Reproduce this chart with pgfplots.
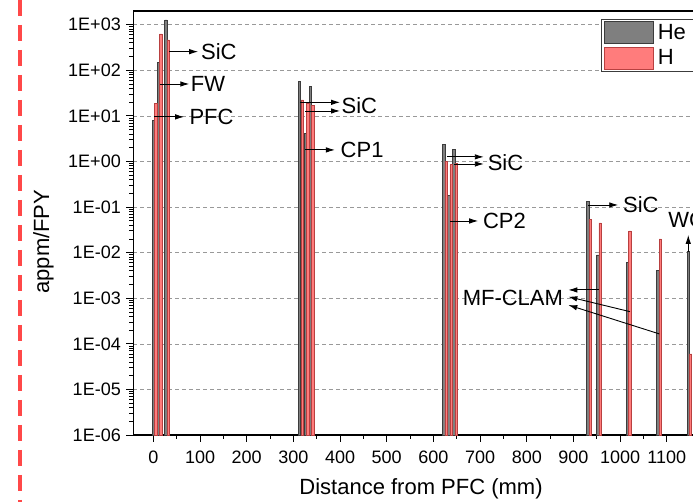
\documentclass[border=0pt]{standalone}
\usepackage{fontspec}
\setmainfont{Liberation Sans}
\usepackage{pgfplots}
\pgfplotsset{compat=1.18}
\usetikzlibrary{arrows.meta}

\definecolor{heFill}{HTML}{7F7F7F}
\definecolor{heLine}{HTML}{3C3C3C}
\definecolor{hFill}{HTML}{FF7C7C}
\definecolor{hLine}{HTML}{B84040}
\definecolor{cutRed}{HTML}{FF4848}

\begin{document}
\begin{tikzpicture}[x=1bp,y=1bp,
  arr/.style={-{Latex[length=9bp,width=5.5bp]},line width=0.9bp},
  lbl/.style={font=\fontsize{22bp}{26bp}\selectfont,inner sep=0pt}]
\begin{axis}[
  at={(133.3bp,67bp)},anchor=south west,
  scale only axis,width=575.5bp,height=424bp,
  xmin=-43,xmax=1190,
  ymode=log,log basis y=10,ymin=1e-6,ymax=1995,log origin=infty,
  xtick={0,100,...,1100},minor x tick num=1,
  ytick={1e-6,1e-5,1e-4,1e-3,1e-2,1e-1,1,1e1,1e2,1e3},
  yticklabels={1E-06,1E-05,1E-04,1E-03,1E-02,1E-01,1E+00,1E+01,1E+02,1E+03},
  minor ytick={2e-6,3e-6,4e-6,5e-6,6e-6,7e-6,8e-6,9e-6,
    2e-5,3e-5,4e-5,5e-5,6e-5,7e-5,8e-5,9e-5,
    2e-4,3e-4,4e-4,5e-4,6e-4,7e-4,8e-4,9e-4,
    2e-3,3e-3,4e-3,5e-3,6e-3,7e-3,8e-3,9e-3,
    2e-2,3e-2,4e-2,5e-2,6e-2,7e-2,8e-2,9e-2,
    0.2,0.3,0.4,0.5,0.6,0.7,0.8,0.9,
    2,3,4,5,6,7,8,9,20,30,40,50,60,70,80,90,
    200,300,400,500,600,700,800,900},
  xtick pos=bottom,ytick pos=left,tick align=outside,
  major tick length=7bp,minor tick length=4bp,
  tick style={black,line width=0.8bp},
  axis line style={line width=1.2bp},
  ymajorgrids,
  major grid style={gray!80,line width=0.6bp,dash pattern=on 4bp off 3bp},
  /pgf/number format/assume math mode=true,
  /pgf/number format/1000 sep={},
  ticklabel style={font=\fontsize{18bp}{21bp}\selectfont},
  xticklabel style={yshift=-5bp},
  yticklabel style={xshift=-2bp},
  xlabel={Distance from PFC (mm)},ylabel={appm/FPY},
  every axis x label/.style={at={(axis description cs:0.5,-0.127)},anchor=center,
    font=\fontsize{22bp}{26bp}\selectfont},
  every axis y label/.style={at={(axis description cs:-0.156,0.456)},anchor=center,
    rotate=90,font=\fontsize{22bp}{26bp}\selectfont},
  legend style={at={(axis description cs:0.812,0.981)},anchor=north west,
    draw=heLine,line width=0.8bp,font=\fontsize{22bp}{24bp}\selectfont,
    inner xsep=3bp,inner ysep=1.5bp,row sep=3bp,
    nodes={inner xsep=4bp}},
  legend cell align=left,
  legend image code/.code={\draw[#1,line width=0.8bp] (0bp,-11bp) rectangle (49bp,11bp);},
]
\addplot[ybar,bar shift=0pt,bar width=5,fill=heFill,draw=heLine,line width=0.7bp]
  coordinates {(0,8.1) (11,147) (27,1270) (313,56) (326,4.1) (337,44)
  (622,2.4) (633,0.18) (644,1.85) (931,0.13) (952,0.0089) (1016,0.006)
  (1081,0.0041) (1146,0.0105)};
\addplot[ybar,bar shift=0pt,bar width=5,fill=hFill,draw=hLine,line width=0.7bp]
  coordinates {(5,19) (16,625) (32,462) (319,22.3) (331,18.9) (342,17.3)
  (627,1.02) (638,0.85) (649,0.92) (936,0.054) (957,0.045) (1021,0.030)
  (1086,0.020) (1151,6e-5)};
\legend{He,H}

% first wall group
\draw[arr] (axis cs:34,256) -- (axis cs:96,256);
\node[lbl,anchor=west] at (axis cs:102,256) {SiC};
\draw[arr] (axis cs:14,50) -- (axis cs:77,50);
\node[lbl,anchor=west] at (axis cs:80,50) {FW};
\draw[arr] (axis cs:1,9.5) -- (axis cs:66,9.5);
\node[lbl,anchor=west] at (axis cs:77,9.5) {PFC};
% CP1 group
\draw[arr] (axis cs:314,19.8) -- (axis cs:400,19.8);
\draw[arr] (axis cs:325,12.8) -- (axis cs:400,12.8);
\node[lbl,anchor=west] at (axis cs:403,16.4) {SiC};
\draw[arr] (axis cs:325,1.79) -- (axis cs:389,1.79);
\node[lbl,anchor=west] at (axis cs:401,1.79) {CP1};
% CP2 group
\draw[arr] (axis cs:629,1.26) -- (axis cs:708,1.26);
\draw[arr] (axis cs:644,0.88) -- (axis cs:708,0.88);
\node[lbl,anchor=west] at (axis cs:716,0.93) {SiC};
\draw[arr] (axis cs:636,0.0495) -- (axis cs:696,0.0495);
\node[lbl,anchor=west] at (axis cs:706,0.0495) {CP2};
% blanket group
\draw[arr] (axis cs:932,0.111) -- (axis cs:996,0.111);
\node[lbl,anchor=west] at (axis cs:1006,0.111) {SiC};
\node[lbl,anchor=east] at (axis cs:878,1.01e-3) {MF-CLAM};
\draw[arr] (axis cs:954,1.52e-3) -- (axis cs:889,1.52e-3);
\draw[arr] (axis cs:1021,5.08e-4) -- (axis cs:889,1.08e-3);
\draw[arr] (axis cs:1084,1.65e-4) -- (axis cs:889,7.1e-4);
\draw[arr] (axis cs:1146,0.0105) -- (axis cs:1146,0.0245);
\node[lbl,anchor=west] at (axis cs:1103,0.0515) {WC};
\end{axis}
\draw[cutRed,line width=4bp,dash pattern=on 16bp off 9bp] (20bp,502bp) -- (20bp,0bp);
\pgfresetboundingbox
\useasboundingbox (0bp,0bp) rectangle (693bp,502bp);
\end{tikzpicture}
\end{document}
